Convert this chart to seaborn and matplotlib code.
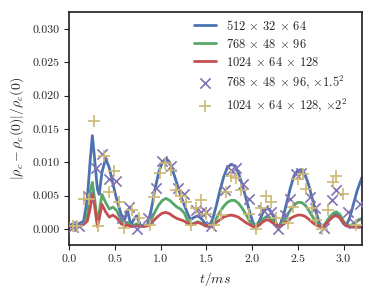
import matplotlib
matplotlib.use('Agg')
import matplotlib.pyplot as plt
import seaborn as sns

# time grid (ms) shared by the three resolution curves
t_line = [0.0, 0.04, 0.08, 0.12, 0.16, 0.20, 0.23, 0.255, 0.28, 0.31, 0.33, 0.36, 0.40, 0.44,
          0.48, 0.52, 0.57, 0.61, 0.64, 0.675, 0.71, 0.74, 0.78, 0.82, 0.86, 0.90, 0.94, 0.98,
          1.02, 1.06, 1.10, 1.14, 1.18, 1.22, 1.26, 1.30, 1.33, 1.37, 1.41, 1.45, 1.49, 1.53,
          1.57, 1.61, 1.65, 1.69, 1.73, 1.77, 1.81, 1.85, 1.89, 1.93, 1.97, 2.01, 2.04, 2.08,
          2.12, 2.16, 2.19, 2.23, 2.27, 2.30, 2.34, 2.38, 2.42, 2.46, 2.50, 2.54, 2.58, 2.62,
          2.66, 2.70, 2.74, 2.77, 2.81, 2.85, 2.89, 2.92, 2.96, 3.00, 3.03, 3.07, 3.11, 3.15, 3.20]

res_512 = [0.0003, 0.0008, 0.0004, 0.0009, 0.0012, 0.0045, 0.0100, 0.0140, 0.0105, 0.0060, 0.0052,
           0.0085, 0.0106, 0.0092, 0.0068, 0.0045, 0.0022, 0.0015, 0.0028, 0.0006, 0.0015, 0.0020,
           0.0006, 0.0005, 0.0007, 0.0030, 0.0060, 0.0085, 0.0100, 0.0106, 0.0100, 0.0085, 0.0068,
           0.0050, 0.0036, 0.0022, 0.0014, 0.0018, 0.0020, 0.0015, 0.0008, 0.0004, 0.0015, 0.0035,
           0.0058, 0.0078, 0.0092, 0.0097, 0.0095, 0.0085, 0.0068, 0.0048, 0.0028, 0.0010, 0.0004,
           0.0012, 0.0025, 0.0031, 0.0030, 0.0020, 0.0007, 0.0004, 0.0018, 0.0040, 0.0062, 0.0080,
           0.0088, 0.0089, 0.0082, 0.0066, 0.0045, 0.0025, 0.0008, 0.0001, 0.0010, 0.0018, 0.0022,
           0.0023, 0.0017, 0.0008, 0.0005, 0.0018, 0.0038, 0.0058, 0.0077]

res_768 = [0.0003, 0.0005, 0.0004, 0.0006, 0.0008, 0.0020, 0.0055, 0.0070, 0.0045, 0.0010, 0.0025,
           0.0052, 0.0040, 0.0030, 0.0033, 0.0028, 0.0014, 0.0008, 0.0010, 0.0005, 0.0006, 0.0008,
           0.0005, 0.0004, 0.0006, 0.0015, 0.0026, 0.0036, 0.0043, 0.0046, 0.0043, 0.0038, 0.0033,
           0.0030, 0.0024, 0.0012, 0.0007, 0.0009, 0.0011, 0.0008, 0.0005, 0.0004, 0.0008, 0.0016,
           0.0026, 0.0034, 0.0040, 0.0043, 0.0043, 0.0039, 0.0032, 0.0023, 0.0013, 0.0006, 0.0004,
           0.0008, 0.0015, 0.0019, 0.0018, 0.0012, 0.0005, 0.0004, 0.0010, 0.0019, 0.0029, 0.0036,
           0.0040, 0.0040, 0.0036, 0.0028, 0.0019, 0.0011, 0.0005, 0.0003, 0.0009, 0.0018, 0.0024,
           0.0026, 0.0022, 0.0012, 0.0006, 0.0005, 0.0008, 0.0012, 0.0016]

res_1024 = [0.0003, 0.0004, 0.0003, 0.0005, 0.0007, 0.0012, 0.0030, 0.0053, 0.0035, 0.0004, 0.0015,
            0.0037, 0.0026, 0.0018, 0.0021, 0.0017, 0.0008, 0.0005, 0.0006, 0.0004, 0.0004, 0.0005,
            0.0004, 0.0004, 0.0005, 0.0009, 0.0015, 0.0020, 0.0024, 0.0025, 0.0023, 0.0019, 0.0016,
            0.0014, 0.0012, 0.0008, 0.0006, 0.0008, 0.0010, 0.0008, 0.0005, 0.0004, 0.0006, 0.0010,
            0.0014, 0.0018, 0.0020, 0.0021, 0.0020, 0.0018, 0.0014, 0.0010, 0.0007, 0.0004, 0.0003,
            0.0006, 0.0011, 0.0014, 0.0013, 0.0009, 0.0005, 0.0004, 0.0007, 0.0011, 0.0016, 0.0019,
            0.0021, 0.0021, 0.0019, 0.0015, 0.0010, 0.0006, 0.0004, 0.0003, 0.0008, 0.0014, 0.0019,
            0.0020, 0.0017, 0.0010, 0.0005, 0.0003, 0.0003, 0.0003, 0.0003]

# rescaled runs (markers)
t_768s = [0.04, 0.11, 0.21, 0.29, 0.365, 0.44, 0.51, 0.58, 0.66, 0.74, 0.86, 0.95, 1.02, 1.11,
          1.19, 1.26, 1.39, 1.44, 1.50, 1.55, 1.70, 1.77, 1.83, 1.90, 1.97, 2.12, 2.21, 2.28,
          2.36, 2.41, 2.48, 2.54, 2.63, 2.69, 2.79, 2.87, 2.92, 3.05, 3.12, 3.18]
v_768s = [0.0003, 0.0005, 0.0050, 0.0091, 0.0112, 0.0075, 0.0072, 0.0016, 0.0033, 0.0000, 0.0016,
          0.0061, 0.0102, 0.0094, 0.0062, 0.0053, 0.0028, 0.0026, 0.0026, 0.0004, 0.0058, 0.0089,
          0.0092, 0.0067, 0.0045, 0.0028, 0.0026, 0.0000, 0.0021, 0.0045, 0.0082, 0.0084, 0.0048,
          0.0031, 0.0001, 0.0043, 0.0058, 0.0026, 0.0009, 0.0038]

t_1024s = [0.04, 0.09, 0.16, 0.22, 0.27, 0.32, 0.38, 0.44, 0.49, 0.55, 0.60, 0.69, 0.77, 0.88,
           0.93, 0.99, 1.05, 1.11, 1.17, 1.22, 1.28, 1.33, 1.39, 1.44, 1.50, 1.59, 1.66, 1.72,
           1.77, 1.83, 1.88, 1.97, 2.04, 2.10, 2.15, 2.21, 2.26, 2.39, 2.45, 2.50, 2.56, 2.59,
           2.66, 2.70, 2.77, 2.83, 2.88, 2.92, 2.99, 3.14]
v_1024s = [0.0004, 0.0005, 0.0045, 0.0045, 0.0162, 0.0004, 0.0109, 0.0055, 0.0087, 0.0040, 0.0002,
           0.0028, 0.0016, 0.0006, 0.0048, 0.0084, 0.0099, 0.0088, 0.0058, 0.0050, 0.0040, 0.0006,
           0.0031, 0.0043, 0.0023, 0.0006, 0.0021, 0.0055, 0.0080, 0.0077, 0.0058, 0.0023, 0.0000,
           0.0031, 0.0050, 0.0040, 0.0016, 0.0009, 0.0033, 0.0075, 0.0082, 0.0060, 0.0031, 0.0014,
           0.0000, 0.0028, 0.0070, 0.0080, 0.0053, 0.0006]

labels = [r'$512\,\times\,32\,\times\,64$',
          r'$768\,\times\,48\,\times\,96$',
          r'$1024\,\times\,64\,\times\,128$',
          r'$768\,\times\,48\,\times\,96,\,{\times}1.5^2$',
          r'$1024\,\times\,64\,\times\,128,\,{\times}2^2$']

sns.set_theme(style='ticks')
pal = sns.color_palette('deep')
plt.rcParams['font.family'] = ['cmr10']
plt.rcParams['mathtext.fontset'] = 'cm'
plt.rcParams['axes.unicode_minus'] = False
plt.rcParams['axes.formatter.use_mathtext'] = True

fig = plt.figure(figsize=(3.73, 2.95), dpi=100)
ax = fig.add_axes([0.185, 0.169, 0.785, 0.79])

sns.lineplot(x=t_line, y=res_512, ax=ax, color=pal[0], lw=2, label=labels[0])
sns.lineplot(x=t_line, y=res_768, ax=ax, color=pal[2], lw=2, label=labels[1])
sns.lineplot(x=t_line, y=res_1024, ax=ax, color=pal[3], lw=2, label=labels[2])
sns.scatterplot(x=t_768s, y=v_768s, ax=ax, color=pal[4], marker='x', s=55, linewidth=1.2,
                label=labels[3], zorder=3)
sns.scatterplot(x=t_1024s, y=v_1024s, ax=ax, color=pal[8], marker='+', s=65, linewidth=1.2,
                label=labels[4], zorder=3)

ax.set_xlim(0, 3.2)
ax.set_ylim(-0.0024, 0.0325)
ax.set_yticks([0, 0.005, 0.01, 0.015, 0.02, 0.025, 0.03])
ax.set_yticklabels(['0.000', '0.005', '0.010', '0.015', '0.020', '0.025', '0.030'])
ax.set_xticks([0, 0.5, 1.0, 1.5, 2.0, 2.5, 3.0])
ax.set_xticklabels(['0.0', '0.5', '1.0', '1.5', '2.0', '2.5', '3.0'])
ax.tick_params(labelsize=8.5, length=3.5, width=0.8)
ax.set_xlabel(r'$t/ms$', fontsize=10)
ax.set_ylabel(r'$|\rho_c - \rho_c(0)|/\rho_c(0)$', fontsize=10)
ax.legend(loc='upper right', bbox_to_anchor=(1.0, 1.03), frameon=False, fontsize=9,
          handlelength=1.8, handletextpad=0.8, labelspacing=0.4, borderaxespad=0.7)

fig.savefig('out.png', dpi=100)
